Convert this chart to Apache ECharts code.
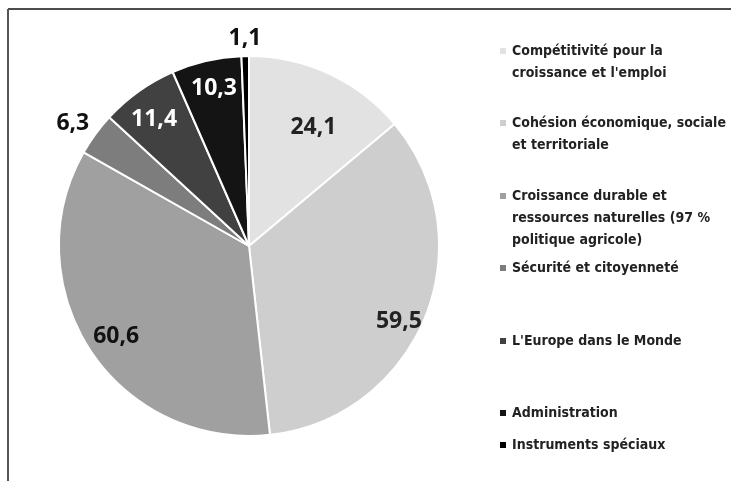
<!DOCTYPE html>
<html>
<head>
<meta charset="utf-8">
<script src="https://cdn.jsdelivr.net/npm/echarts@6/dist/echarts.min.js"></script>
<style>
	html, body {margin: 0; padding: 0; background: #fff;}
	#chart {width: 731px; height: 481px;}
</style>
</head>
<body>
<div id="chart"></div>
<script>
	var names = [
		'Compétitivité pour la\ncroissance et l\'emploi',
		'Cohésion économique, sociale\net territoriale',
		'Croissance durable et\nressources naturelles (97 %\npolitique agricole)',
		'Sécurité et citoyenneté',
		'L\'Europe dans le Monde',
		'Administration',
		'Instruments spéciaux'
	];
	var values = [24.1, 59.5, 60.6, 6.3, 11.4, 10.3, 1.1];
	var labels = ['24,1', '59,5', '60,6', '6,3', '11,4', '10,3', '1,1'];
	var colors = ['#e2e2e2', '#cecece', '#a0a0a0', '#7d7d7d', '#414141', '#141414', '#000000'];
	var labelColors = ['#222', '#222', '#111', '#111', '#fff', '#fff', '#111'];
	// label shifts from the default inside position
	var labelShift = [[23, -30], [59, 39], [-51, 37], [-97, -65], [-38, -47], [-13, -62], [-2, -110]];
	// legend icon y positions
	var legendY = [51, 123, 196, 268, 341, 413, 445];

	var lineH = 22;
	var chart = echarts.init(document.getElementById('chart'));

	var legends = names.map(function (name, i) {
		var n = name.split('\n').length;
		var pad = '';
		for (var k = 1; k < n; k++) {
			pad += '\n';
		}
		return {
			orient: 'vertical',
			left: 498,
			top: legendY[i] - (2 * n - 1) * lineH / 2,
			padding: 0,
			itemWidth: 8,
			itemHeight: 8,
			icon: 'rect',
			selectedMode: false,
			data: [name],
			formatter: function (t) {
				return pad + t;
			},
			textStyle: {
				fontFamily: '"DejaVu Sans Condensed", sans-serif',
				fontWeight: 'bold',
				fontSize: 14,
				lineHeight: lineH,
				color: '#222'
			}
		};
	});

	var data = values.map(function (v, i) {
		return {
			name: names[i],
			value: v,
			itemStyle: {color: colors[i]},
			label: {color: labelColors[i]}
		};
	});

	chart.setOption({
		animation: false,
		legend: legends,
		graphic: [
			{type: 'line', shape: {x1: 8, y1: 9, x2: 731, y2: 9}, style: {stroke: '#111', lineWidth: 1.5}},
			{type: 'line', shape: {x1: 8, y1: 9, x2: 8, y2: 481}, style: {stroke: '#555', lineWidth: 2}}
		],
		series: [
			{
				type: 'pie',
				center: [249, 246],
				radius: [0, 190],
				startAngle: 90,
				clockwise: true,
				avoidLabelOverlap: false,
				itemStyle: {borderColor: '#fff', borderWidth: 2},
				label: {
					show: true,
					position: 'inside',
					fontFamily: '"Noto Sans", sans-serif',
					fontWeight: 'bold',
					fontSize: 23,
					formatter: function (p) {
						return labels[p.dataIndex];
					}
				},
				labelLine: {show: false},
				labelLayout: function (p) {
					return {dx: labelShift[p.dataIndex][0], dy: labelShift[p.dataIndex][1]};
				},
				emphasis: {disabled: true},
				data: data
			}
		]
	});
</script>
</body>
</html>
